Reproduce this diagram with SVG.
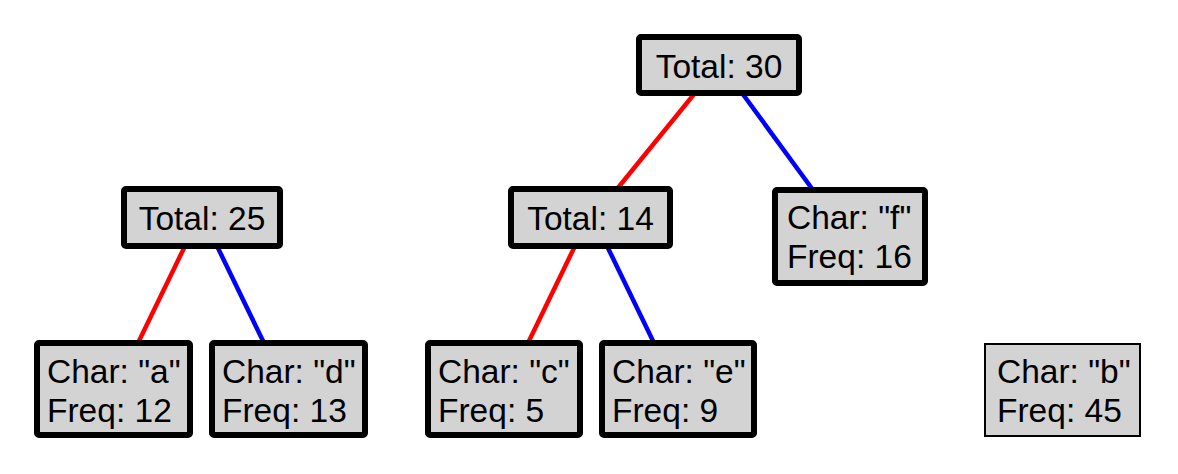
<svg xmlns="http://www.w3.org/2000/svg" width="1178" height="474" viewBox="0 0 1178 474">
<style>
.box{fill:#d3d3d3;stroke:#000;stroke-width:6}
.thin{fill:#d3d3d3;stroke:#000;stroke-width:2}
.t{font-family:"Liberation Sans",Arial,sans-serif;font-size:33.5px;fill:#000}
.c{text-anchor:middle}
.l{stroke-width:4.5;fill:none}
.red{stroke:#ff0000}
.blue{stroke:#0000ff}
</style>
<rect width="1178" height="474" fill="#fff"/>
<g id="connectors">
<line class="l red" x1="695" y1="93" x2="617" y2="189"/>
<line class="l blue" x1="742" y1="93" x2="813" y2="190"/>
<line class="l red" x1="185" y1="246" x2="138" y2="343"/>
<line class="l blue" x1="217" y1="246" x2="264" y2="343"/>
<line class="l red" x1="575" y1="246" x2="528" y2="343"/>
<line class="l blue" x1="607" y1="246" x2="654" y2="343"/>
</g>
<g id="total30">
<rect class="box" x="639" y="37" width="160" height="56" rx="2"/>
<text class="t c" x="719" y="78">Total: 30</text>
</g>
<g id="total25">
<rect class="box" x="124" y="189" width="156" height="57" rx="2"/>
<text class="t c" x="202" y="230">Total: 25</text>
</g>
<g id="total14">
<rect class="box" x="511" y="189" width="159" height="57" rx="2"/>
<text class="t c" x="590.5" y="230">Total: 14</text>
</g>
<g id="charF">
<rect class="box" x="775" y="190" width="150" height="93" rx="2"/>
<text class="t" x="787" y="229">Char: "f"</text>
<text class="t" x="787" y="268">Freq: 16</text>
</g>
<g id="charA">
<rect class="box" x="37" y="343" width="153" height="92" rx="2"/>
<text class="t" x="47" y="383">Char: "a"</text>
<text class="t" x="47" y="422">Freq: 12</text>
</g>
<g id="charD">
<rect class="box" x="212" y="343" width="153" height="92" rx="2"/>
<text class="t" x="222" y="383">Char: "d"</text>
<text class="t" x="222" y="422">Freq: 13</text>
</g>
<g id="charC">
<rect class="box" x="428" y="343" width="152" height="92" rx="2"/>
<text class="t" x="438" y="383">Char: "c"</text>
<text class="t" x="438" y="422">Freq: 5</text>
</g>
<g id="charE">
<rect class="box" x="602" y="343" width="152" height="92" rx="2"/>
<text class="t" x="612" y="383">Char: "e"</text>
<text class="t" x="612" y="422">Freq: 9</text>
</g>
<g id="charB">
<rect class="thin" x="985" y="344" width="155" height="92"/>
<text class="t" x="997" y="383">Char: "b"</text>
<text class="t" x="997" y="422">Freq: 45</text>
</g>
</svg>
